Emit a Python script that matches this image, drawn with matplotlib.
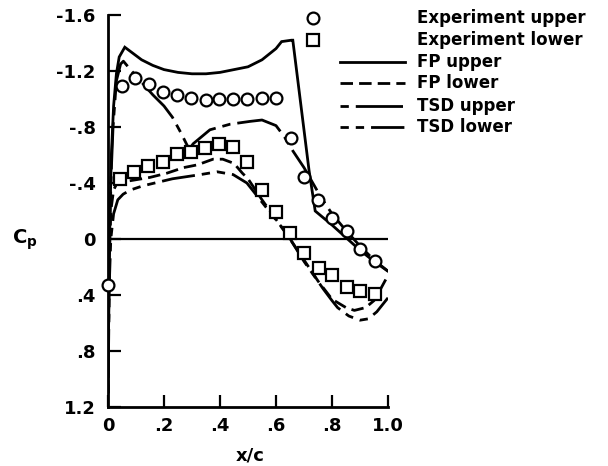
import matplotlib
matplotlib.use("Agg")
import matplotlib.pyplot as plt
from matplotlib.lines import Line2D

plt.rcParams['font.family'] = ['DejaVu Sans']
plt.rcParams['font.weight'] = 'bold'
plt.rcParams['mathtext.fontset'] = 'dejavusans'

# ---- data ----
exp_upper_x = [0.0, 0.05, 0.096, 0.148, 0.197, 0.247, 0.297, 0.349, 0.397, 0.447, 0.497, 0.55, 0.60,
               0.653, 0.70, 0.75, 0.80, 0.853, 0.90, 0.954]
exp_upper_cp = [0.33, -1.09, -1.15, -1.11, -1.05, -1.03, -1.01, -0.99, -1.00, -1.00, -1.00, -1.01, -1.01,
                -0.72, -0.44, -0.28, -0.15, -0.06, 0.07, 0.16]

exp_lower_x = [0.043, 0.093, 0.143, 0.196, 0.246, 0.296, 0.346, 0.396, 0.447, 0.497, 0.55, 0.60,
               0.65, 0.70, 0.753, 0.80, 0.853, 0.90, 0.954]
exp_lower_cp = [-0.43, -0.48, -0.52, -0.55, -0.61, -0.62, -0.65, -0.68, -0.66, -0.55, -0.35, -0.19,
                -0.04, 0.10, 0.21, 0.26, 0.34, 0.37, 0.39]

fp_upper_x = [0.0, 0.005, 0.012, 0.02, 0.03, 0.04, 0.06, 0.08, 0.12, 0.16, 0.2, 0.25, 0.3, 0.35,
              0.4, 0.45, 0.5, 0.55, 0.6, 0.62, 0.655, 0.66, 0.718, 0.74, 0.80, 0.85, 0.90, 0.95, 1.0]
fp_upper_cp = [1.1, 0.0, -0.6, -0.95, -1.18, -1.30, -1.37, -1.34, -1.28, -1.24, -1.21, -1.19, -1.18, -1.18,
               -1.19, -1.21, -1.23, -1.28, -1.36, -1.41, -1.42, -1.42, -0.49, -0.20, -0.10, -0.01, 0.08,
               0.16, 0.23]

fp_lower_x = [0.0, 0.004, 0.01, 0.02, 0.03, 0.06, 0.09, 0.15, 0.21, 0.27, 0.32, 0.375, 0.41, 0.45,
              0.48, 0.5, 0.55, 0.6, 0.65, 0.7, 0.75, 0.8, 0.85, 0.88, 0.92, 0.95, 0.97, 1.0]
fp_lower_cp = [1.1, 0.2, -0.2, -0.35, -0.39, -0.41, -0.42, -0.44, -0.47, -0.51, -0.53, -0.57, -0.57, -0.54,
               -0.47, -0.43, -0.28, -0.14, 0.0, 0.15, 0.30, 0.43, 0.49, 0.51, 0.49, 0.44, 0.37, 0.26]

tsd_upper_x = [0.0, 0.005, 0.012, 0.018, 0.03, 0.045, 0.055, 0.08, 0.12, 0.16, 0.2, 0.23, 0.26, 0.29,
               0.304, 0.364, 0.436, 0.507, 0.55, 0.6, 0.63, 0.66, 0.70, 0.72, 0.76, 0.80, 0.85, 0.90,
               0.95, 1.0]
tsd_upper_cp = [1.1, 0.0, -0.5, -0.8, -1.13, -1.25, -1.27, -1.21, -1.12, -1.03, -0.95, -0.87, -0.76, -0.64,
                -0.68, -0.78, -0.82, -0.84, -0.85, -0.81, -0.73, -0.63, -0.51, -0.44, -0.30, -0.18, -0.06,
                0.05, 0.15, 0.23]

tsd_lower_x = [0.0, 0.005, 0.01, 0.02, 0.035, 0.054, 0.08, 0.125, 0.23, 0.33, 0.39, 0.447, 0.496, 0.567,
               0.64, 0.70, 0.77, 0.80, 0.82, 0.86, 0.90, 0.93, 0.96, 0.98, 1.0]
tsd_lower_cp = [1.1, 0.3, 0.0, -0.18, -0.28, -0.32, -0.35, -0.38, -0.43, -0.46, -0.48, -0.46, -0.40, -0.22,
                -0.035, 0.16, 0.36, 0.44, 0.49, 0.55, 0.58, 0.57, 0.52, 0.47, 0.42]

y_ticks = [-1.6, -1.2, -0.8, -0.4, 0.0, 0.4, 0.8, 1.2]
y_tick_labels = ['-1.6', '-1.2', '-.8', '-.4', '0', '.4', '.8', '1.2']
x_ticks = [0.0, 0.2, 0.4, 0.6, 0.8, 1.0]
x_tick_labels = ['0', '.2', '.4', '.6', '.8', '1.0']

legend_labels = ['Experiment upper', 'Experiment lower', 'FP upper', 'FP lower', 'TSD upper', 'TSD lower']

# ---- styles ----
LW = 2.0
fp_lower_dash = (4.5, 2.2)
tsd_upper_dash = (3.0, 2.5, 17.0, 2.5)
tsd_lower_dash = (3.0, 2.5, 3.0, 2.5, 12.0, 2.5)

W, H = 608, 466
fig = plt.figure(figsize=(W / 100, H / 100), dpi=100)
ax = fig.add_axes([108 / W, 1 - 407 / H, 280 / W, 392 / H])

ax.axhline(0, color='black', lw=1.6, zorder=1)

ax.plot(fp_upper_x, fp_upper_cp, color='black', lw=LW, solid_joinstyle='miter', zorder=2)
ax.plot(fp_lower_x, fp_lower_cp, color='black', lw=LW, dashes=fp_lower_dash, zorder=2)
ax.plot(tsd_upper_x, tsd_upper_cp, color='black', lw=LW, dashes=tsd_upper_dash, zorder=2)
ax.plot(tsd_lower_x, tsd_lower_cp, color='black', lw=LW, dashes=tsd_lower_dash, zorder=2)

ax.plot(exp_upper_x, exp_upper_cp, ls='none', marker='o', ms=8.5, mfc='white', mec='black',
        mew=1.6, zorder=4, clip_on=False)
ax.plot(exp_lower_x, exp_lower_cp, ls='none', marker='s', ms=8, mfc='white', mec='black',
        mew=1.6, zorder=4, clip_on=False)

ax.set_xlim(0, 1.0)
ax.set_ylim(1.2, -1.6)
ax.set_xticks(x_ticks)
ax.set_xticklabels(x_tick_labels)
ax.set_yticks(y_ticks)
ax.set_yticklabels(y_tick_labels)
for s in ['top', 'right']:
    ax.spines[s].set_visible(False)
for s in ['left', 'bottom']:
    ax.spines[s].set_linewidth(2.0)
ax.tick_params(axis='both', direction='in', length=9, width=1.6, labelsize=13)
ax.tick_params(axis='y', pad=9)
ax.tick_params(axis='x', pad=7)
for lab in ax.get_xticklabels() + ax.get_yticklabels():
    lab.set_fontweight('bold')

ax.set_xlabel('x/c', fontsize=13, fontweight='bold', va='center')
ax.xaxis.set_label_coords((250 - 108) / 280, (407 - 455) / 392)
ax.set_ylabel(r'$\mathbf{C_p}$', fontsize=14, rotation=0, va='center', ha='center')
ax.yaxis.set_label_coords((25 - 108) / 280, (407 - 240) / 392)

# ---- legend (manual, figure pixel layout) ----
def fx(px):
    return px / W

def fy(py):
    return 1 - py / H

rows = [18, 40, 62, 83, 106, 127]
fig.add_artist(Line2D([fx(313)], [fy(rows[0])], marker='o', ms=8.5, mfc='white', mec='black', mew=1.6))
fig.add_artist(Line2D([fx(313)], [fy(rows[1])], marker='s', ms=8, mfc='white', mec='black', mew=1.6))
fig.add_artist(Line2D([fx(340), fx(405)], [fy(rows[2])] * 2, color='black', lw=LW))
fig.add_artist(Line2D([fx(340), fx(405)], [fy(rows[3])] * 2, color='black', lw=LW, dashes=fp_lower_dash))
fig.add_artist(Line2D([fx(340), fx(405)], [fy(rows[4])] * 2, color='black', lw=LW, dashes=tsd_upper_dash))
fig.add_artist(Line2D([fx(340), fx(405)], [fy(rows[5])] * 2, color='black', lw=LW, dashes=tsd_lower_dash))
for r, lab in zip(rows, legend_labels):
    fig.text(fx(417), fy(r), lab, fontsize=12, fontweight='bold', ha='left', va='center')

fig.savefig('out.png', dpi=100)
